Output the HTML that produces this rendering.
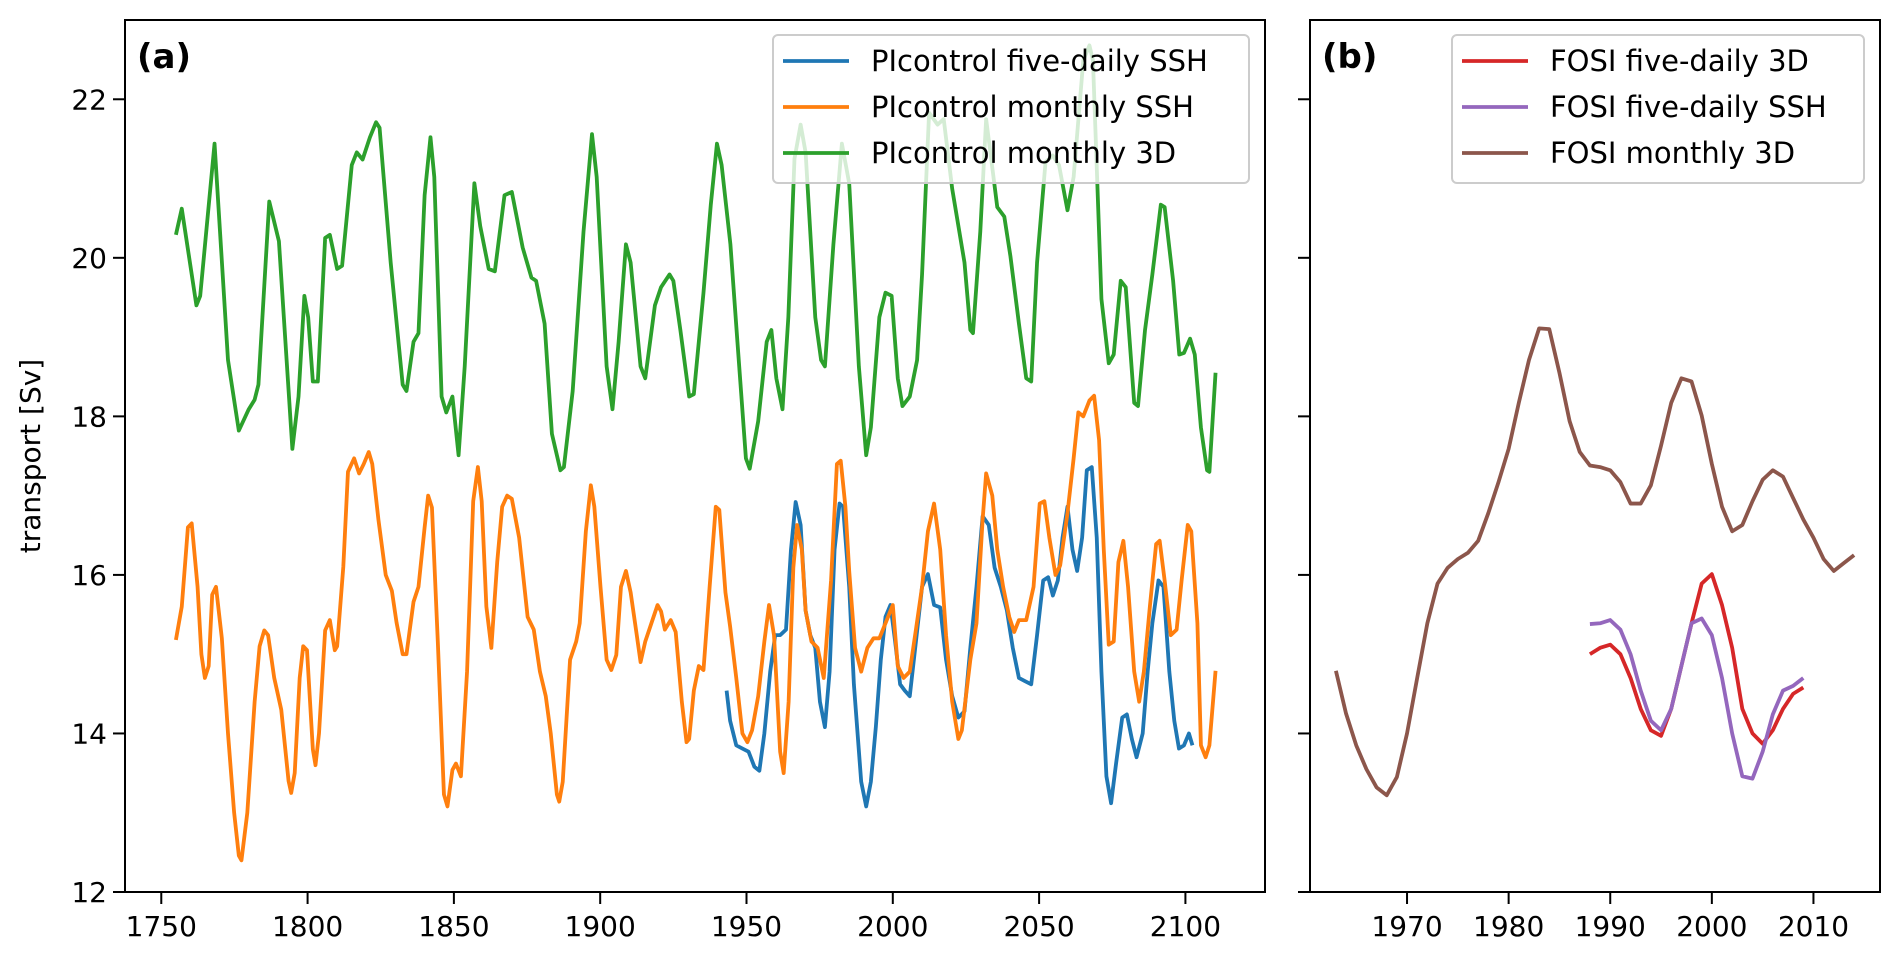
<!DOCTYPE html>
<html><head><meta charset="utf-8">
<style>
html,body{margin:0;padding:0;background:#fff;}
svg{display:block;font-family:"DejaVu Sans","Liberation Sans",sans-serif;}
</style></head>
<body>
<svg id="chart" width="1892" height="953" viewBox="0 0 1892 953" xmlns="http://www.w3.org/2000/svg">
  <rect x="0" y="0" width="1892" height="953" fill="#fff"/>
  <g id="panelA"></g>
  <g id="panelB"></g>
</svg>
<script>
// ---- Panel (a) data ----
const blueYears = [1943.2,1944.4,1946.5,1948.6,1950.7,1952.7,1954.4,1956.1,1958.1,1959.8,1961.5,1963.5,1965.2,1966.8,1968.5,1970.2,1971.8,1973.5,1975.1,1976.8,1978.4,1980.1,1981.8,1983.0,1985.1,1986.7,1989.2,1990.9,1992.5,1994.2,1995.9,1997.5,1999.2,2000.8,2002.5,2004.1,2005.8,2007.9,2010.0,2012.0,2014.1,2016.2,2018.2,2020.3,2022.4,2024.5,2026.5,2028.6,2030.7,2032.8,2034.8,2036.9,2039.0,2041.0,2043.1,2045.2,2047.3,2049.3,2051.4,2053.1,2054.7,2056.4,2058.0,2059.7,2061.4,2063.0,2064.7,2066.3,2068.0,2069.7,2071.3,2073.0,2074.6,2076.3,2078.4,2080.0,2081.7,2083.3,2085.4,2087.1,2088.7,2090.8,2092.5,2094.5,2096.2,2097.8,2099.5,2101.2,2102.4];
const blueValues = [14.54,14.16,13.85,13.81,13.77,13.58,13.53,14.0,14.78,15.24,15.24,15.31,16.32,16.92,16.63,15.55,15.24,15.08,14.4,14.08,14.78,16.32,16.9,16.86,15.85,14.62,13.39,13.08,13.39,14.08,14.93,15.47,15.62,15.16,14.62,14.54,14.47,15.16,15.85,16.01,15.62,15.59,14.93,14.47,14.2,14.28,15.08,15.85,16.74,16.63,16.09,15.85,15.55,15.08,14.7,14.66,14.62,15.24,15.93,15.97,15.74,15.93,16.47,16.86,16.32,16.05,16.47,17.32,17.36,16.47,14.78,13.46,13.12,13.62,14.2,14.24,13.93,13.7,14.0,14.78,15.39,15.93,15.85,14.78,14.16,13.81,13.85,14.0,13.85];

const orangeYears = [1755.0,1757.0,1759.1,1760.4,1762.4,1763.7,1764.9,1766.2,1767.4,1768.7,1770.7,1772.8,1774.9,1776.5,1777.4,1779.4,1781.9,1783.6,1785.2,1786.5,1788.6,1791.0,1793.5,1794.4,1795.6,1797.3,1798.5,1799.8,1801.8,1802.7,1803.9,1806.0,1807.6,1809.3,1810.1,1812.2,1813.8,1815.9,1817.6,1819.2,1820.9,1822.1,1824.2,1826.7,1828.8,1830.4,1832.5,1833.8,1836.2,1837.9,1840.0,1841.2,1842.5,1844.5,1846.6,1847.8,1849.5,1850.7,1852.4,1854.5,1856.6,1858.2,1859.5,1861.1,1862.8,1864.8,1866.5,1868.2,1869.8,1872.3,1875.2,1877.3,1879.4,1881.4,1883.1,1885.2,1886.0,1887.2,1889.7,1891.8,1893.0,1895.1,1896.8,1898.0,1900.1,1902.2,1903.8,1905.5,1907.1,1908.8,1910.4,1912.5,1913.8,1915.4,1917.5,1919.6,1920.8,1922.1,1924.1,1925.8,1927.9,1929.5,1930.4,1932.0,1933.7,1935.3,1937.4,1939.5,1940.7,1942.8,1944.4,1946.5,1948.6,1950.3,1951.9,1954.0,1956.1,1957.7,1959.4,1961.5,1962.7,1964.4,1966.0,1967.3,1968.9,1970.2,1972.2,1974.3,1976.4,1978.9,1980.9,1982.2,1983.8,1985.1,1987.1,1989.2,1991.3,1993.4,1995.4,1997.5,2000.0,2001.7,2003.7,2005.8,2007.9,2010.0,2012.0,2014.1,2016.2,2018.2,2020.3,2022.4,2023.6,2026.5,2028.6,2030.7,2031.9,2034.0,2035.7,2037.7,2039.8,2041.5,2043.1,2045.6,2048.1,2050.2,2051.8,2053.5,2055.6,2057.2,2059.7,2061.8,2063.4,2065.1,2067.2,2068.8,2070.5,2072.1,2073.8,2075.5,2077.1,2078.8,2080.4,2082.5,2084.2,2085.8,2087.9,2090.0,2091.2,2092.9,2095.0,2097.0,2098.7,2100.8,2102.0,2104.1,2105.3,2106.9,2108.2,2110.3];
const orangeValues = [15.18,15.6,16.6,16.65,15.85,15.0,14.7,14.85,15.75,15.85,15.2,14.0,13.0,12.46,12.4,13.0,14.4,15.1,15.3,15.24,14.7,14.3,13.4,13.25,13.5,14.7,15.1,15.05,13.8,13.6,14.0,15.3,15.43,15.05,15.1,16.1,17.3,17.47,17.28,17.4,17.55,17.4,16.7,16.0,15.8,15.4,15.0,15.0,15.66,15.85,16.6,17.0,16.85,15.16,13.23,13.08,13.54,13.62,13.46,14.78,16.93,17.36,16.93,15.6,15.08,16.16,16.86,17.0,16.96,16.47,15.47,15.31,14.78,14.47,14.0,13.23,13.14,13.39,14.93,15.16,15.39,16.55,17.13,16.86,15.85,14.93,14.8,14.99,15.85,16.05,15.78,15.24,14.9,15.16,15.39,15.62,15.54,15.31,15.43,15.28,14.4,13.89,13.93,14.54,14.85,14.8,15.85,16.86,16.82,15.78,15.35,14.7,14.0,13.89,14.04,14.47,15.16,15.62,15.24,13.77,13.5,14.4,16.09,16.63,16.32,15.55,15.16,15.08,14.7,15.93,17.4,17.44,16.86,16.05,15.08,14.78,15.08,15.2,15.2,15.39,15.62,14.85,14.7,14.78,15.31,15.85,16.55,16.9,16.32,15.24,14.4,13.93,14.04,14.93,15.39,16.7,17.28,17.0,16.32,15.85,15.47,15.28,15.43,15.43,15.85,16.9,16.93,16.47,16.0,16.12,16.78,17.47,18.05,18.0,18.2,18.26,17.7,16.32,15.12,15.16,16.16,16.43,15.85,14.78,14.4,14.78,15.62,16.39,16.43,15.93,15.24,15.31,15.93,16.63,16.55,15.39,13.85,13.7,13.85,14.79];

const greenYears = [1755.0,1757.0,1762.0,1763.3,1768.2,1772.8,1776.5,1779.9,1781.9,1783.2,1786.9,1790.2,1794.8,1796.9,1798.9,1800.2,1801.8,1803.5,1806.0,1807.6,1810.1,1811.8,1815.1,1816.8,1818.8,1821.3,1823.4,1824.6,1828.4,1832.5,1833.8,1836.2,1837.9,1840.0,1842.0,1843.3,1845.8,1847.4,1849.5,1851.6,1853.7,1857.0,1859.0,1861.9,1864.0,1867.3,1869.8,1873.5,1876.5,1878.1,1881.0,1883.5,1886.4,1887.6,1890.6,1894.3,1897.2,1898.8,1902.2,1904.2,1906.3,1908.8,1910.4,1913.8,1915.4,1918.7,1920.8,1923.7,1925.0,1927.4,1930.4,1932.0,1935.3,1937.8,1939.9,1941.5,1944.5,1946.9,1949.8,1951.1,1954.0,1956.9,1958.5,1960.2,1962.3,1964.3,1966.4,1968.5,1970.2,1973.5,1975.5,1976.8,1979.7,1982.6,1985.1,1988.4,1990.9,1992.5,1995.4,1997.5,1999.6,2001.7,2003.3,2005.8,2008.3,2010.0,2012.4,2015.3,2017.4,2020.3,2024.5,2026.5,2027.4,2029.9,2031.9,2034.0,2035.7,2038.1,2040.2,2043.1,2045.6,2047.3,2049.3,2052.2,2054.7,2056.8,2059.7,2061.8,2065.1,2067.2,2068.4,2071.3,2073.8,2075.5,2077.9,2079.6,2082.5,2083.8,2086.2,2088.7,2091.6,2092.9,2095.8,2097.9,2099.5,2101.6,2103.2,2105.3,2107.4,2108.2,2110.3];
const greenValues = [20.29,20.62,19.40,19.52,21.44,18.71,17.82,18.09,18.21,18.40,20.71,20.21,17.59,18.25,19.52,19.25,18.44,18.44,20.25,20.29,19.86,19.90,21.17,21.33,21.24,21.52,21.71,21.64,19.94,18.40,18.32,18.94,19.05,20.79,21.52,21.02,18.25,18.05,18.25,17.51,18.63,20.94,20.40,19.86,19.83,20.79,20.83,20.13,19.75,19.71,19.17,17.78,17.32,17.36,18.32,20.33,21.56,21.02,18.63,18.09,18.94,20.17,19.94,18.63,18.48,19.40,19.63,19.79,19.71,19.09,18.25,18.28,19.56,20.67,21.44,21.17,20.17,18.94,17.47,17.34,17.94,18.94,19.09,18.48,18.09,19.25,21.25,21.68,21.33,19.25,18.71,18.63,20.17,21.44,20.94,18.63,17.51,17.86,19.25,19.56,19.52,18.48,18.13,18.25,18.71,19.79,21.83,21.68,21.75,20.87,19.94,19.09,19.05,20.33,21.75,21.14,20.64,20.52,20.02,19.17,18.48,18.44,19.94,21.21,21.29,21.17,20.60,21.02,22.49,22.68,22.49,19.48,18.67,18.78,19.71,19.63,18.17,18.13,19.09,19.79,20.67,20.64,19.71,18.78,18.80,18.98,18.78,17.86,17.32,17.30,18.55];

// ---- Panel (b) data ----
const redYears = [1988,1989,1990,1991,1992,1993,1994,1995,1996,1997,1998,1999,2000,2001,2002,2003,2004,2005,2006,2007,2008,2009];
const redValues = [15.0,15.08,15.12,15.0,14.7,14.31,14.04,13.97,14.31,14.85,15.39,15.89,16.01,15.62,15.08,14.31,14.0,13.87,14.04,14.31,14.5,14.58];
const purpleYears = [1988,1989,1990,1991,1992,1993,1994,1995,1996,1997,1998,1999,2000,2001,2002,2003,2004,2005,2006,2007,2008,2009];
const purpleValues = [15.38,15.39,15.43,15.31,15.0,14.54,14.16,14.04,14.31,14.85,15.39,15.45,15.24,14.7,14.0,13.46,13.43,13.77,14.24,14.54,14.6,14.7];
const brownYears = [1963,1964,1965,1966,1967,1968,1969,1970,1971,1972,1973,1974,1975,1976,1977,1978,1979,1980,1981,1982,1983,1984,1985,1986,1987,1988,1989,1990,1991,1992,1993,1994,1995,1996,1997,1998,1999,2000,2001,2002,2003,2004,2005,2006,2007,2008,2009,2010,2011,2012,2013,2014];
const brownValues = [14.79,14.25,13.85,13.55,13.32,13.22,13.45,14.0,14.7,15.39,15.89,16.09,16.2,16.28,16.43,16.78,17.17,17.59,18.17,18.71,19.11,19.1,18.55,17.94,17.55,17.38,17.36,17.32,17.17,16.9,16.9,17.13,17.63,18.17,18.48,18.44,18.01,17.4,16.86,16.55,16.63,16.93,17.2,17.32,17.24,16.97,16.7,16.47,16.2,16.05,16.15,16.25];

// ---- Ticks ----
const yTicks = [12,14,16,18,20,22];
const xTicksA = [1750,1800,1850,1900,1950,2000,2050,2100];
const xTicksB = [1970,1980,1990,2000,2010];

const NS = "http://www.w3.org/2000/svg";
const Y0 = 892, Y1 = 20, YMIN = 12, YMAX = 23;
function yScale(v){ return Y0 - (v - YMIN) * (Y0 - Y1) / (YMAX - YMIN); }
const A = {left:125, right:1265, xmin:1737.6, xmax:2127.2};
const B = {left:1310, right:1880, xmin:1960.45, xmax:2016.55};
function xScaleA(t){ return A.left + (t - A.xmin) * (A.right - A.left) / (A.xmax - A.xmin); }
function xScaleB(t){ return B.left + (t - B.xmin) * (B.right - B.left) / (B.xmax - B.xmin); }

function mk(tag, attrs, parent){
  const e = document.createElementNS(NS, tag);
  for (const k in attrs) e.setAttribute(k, attrs[k]);
  parent.appendChild(e);
  return e;
}

function drawSeries(parent, xs, ys, xf, color, name){
  let d = "";
  for (let i = 0; i < xs.length; i++){
    d += (i ? "L" : "M") + xf(xs[i]).toFixed(2) + "," + yScale(ys[i]).toFixed(2);
  }
  const p = mk("path", {d:d, fill:"none", stroke:color, "stroke-width":3.8, "stroke-linejoin":"round", "stroke-linecap":"butt"}, parent);
  
  
}

function drawAxes(parent, P, xf, xticks, showYLabels, prefix){
  const clipId = prefix + "-clip";
  const cp = mk("clipPath", {id:clipId}, parent);
  mk("rect", {x:P.left, y:Y1, width:P.right-P.left, height:Y0-Y1}, cp);
  yTicks.forEach(v => {
    const y = yScale(v);
    const t = mk("line", {x1:P.left-12, x2:P.left, y1:y, y2:y, stroke:"#000", "stroke-width":2}, parent);
    
    
    if (showYLabels){
      const tx = mk("text", {x:P.left-18, y:y+10, "text-anchor":"end", "font-size":28, fill:"#000"}, parent);
      tx.textContent = v;
      
      
    }
  });
  xticks.forEach(v => {
    const x = xf(v);
    const t = mk("line", {x1:x, x2:x, y1:Y0, y2:Y0+12, stroke:"#000", "stroke-width":2}, parent);
    
    
    const tx = mk("text", {x:x, y:Y0+44, "text-anchor":"middle", "font-size":28, fill:"#000"}, parent);
    tx.textContent = v;
    
    
  });
  return clipId;
}

function drawFrame(parent, P, prefix){
  const r = mk("rect", {x:P.left, y:Y1, width:P.right-P.left, height:Y0-Y1, fill:"none", stroke:"#000", "stroke-width":2}, parent);
  
  
}

function drawLegend(parent, x, y, w, entries, prefix){
  const g = mk("g", {}, parent);
  
  
  mk("rect", {x:x, y:y, width:w, height:148, rx:5, ry:5, fill:"rgba(255,255,255,0.8)", stroke:"#cccccc", "stroke-width":2}, g);
  entries.forEach((e, i) => {
    const cy = y + 26 + i * 46;
    const ln = mk("line", {x1:x+10, x2:x+76, y1:cy, y2:cy, stroke:e[1], "stroke-width":3.8}, g);
    
    
    const t = mk("text", {x:x+98, y:cy+10, "font-size":29, fill:"#000"}, g);
    t.textContent = e[0];
    
    
  });
}

// Panel A
const gA = document.getElementById("panelA");
const clipA = drawAxes(gA, A, xScaleA, xTicksA, true, "panel-a");
const linesA = mk("g", {"clip-path":"url(#"+clipA+")"}, gA);
drawSeries(linesA, blueYears, blueValues, xScaleA, "#1f77b4", "picontrol-five-daily-ssh-line");
drawSeries(linesA, orangeYears, orangeValues, xScaleA, "#ff7f0e", "picontrol-monthly-ssh-line");
drawSeries(linesA, greenYears, greenValues, xScaleA, "#2ca02c", "picontrol-monthly-3d-line");
drawFrame(gA, A, "panel-a");
drawLegend(gA, 773, 35, 476, [["PIcontrol five-daily SSH","#1f77b4"],["PIcontrol monthly SSH","#ff7f0e"],["PIcontrol monthly 3D","#2ca02c"]], "panel-a");
const la = mk("text", {x:137, y:68, "font-size":34, "font-weight":"bold", fill:"#000"}, gA);
la.textContent = "(a)";


const yl = mk("text", {x:0, y:0, "font-size":28, fill:"#000", "text-anchor":"middle", transform:"translate(40,456) rotate(-90)"}, gA);
yl.textContent = "transport [Sv]";



// Panel B
const gB = document.getElementById("panelB");
const clipB = drawAxes(gB, B, xScaleB, xTicksB, false, "panel-b");
const linesB = mk("g", {"clip-path":"url(#"+clipB+")"}, gB);
drawSeries(linesB, redYears, redValues, xScaleB, "#d62728", "fosi-five-daily-3d-line");
drawSeries(linesB, purpleYears, purpleValues, xScaleB, "#9467bd", "fosi-five-daily-ssh-line");
drawSeries(linesB, brownYears, brownValues, xScaleB, "#8c564b", "fosi-monthly-3d-line");
drawFrame(gB, B, "panel-b");
drawLegend(gB, 1452, 35, 412, [["FOSI five-daily 3D","#d62728"],["FOSI five-daily SSH","#9467bd"],["FOSI monthly 3D","#8c564b"]], "panel-b");
const lb = mk("text", {x:1322, y:68, "font-size":34, "font-weight":"bold", fill:"#000"}, gB);
lb.textContent = "(b)";


</script>
</body></html>
